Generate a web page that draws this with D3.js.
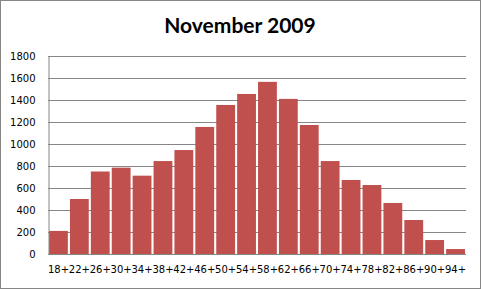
<!DOCTYPE html>
<html>
<head>
<meta charset="utf-8">
<script src="https://cdn.jsdelivr.net/npm/d3@7"></script>
<style>
  html, body { margin: 0; padding: 0; background: #fff; }
  svg { display: block; }
</style>
</head>
<body>
<div id="chart"></div>
<script>
/* data */
const ages   = ["18+","22+","26+","30+","34+","38+","42+","46+","50+","54+",
                "58+","62+","66+","70+","74+","78+","82+","86+","90+","94+"];
const counts = [210, 500, 750, 785, 712, 845, 945, 1155, 1355, 1455,
                1565, 1410, 1173, 845, 673, 627, 464, 309, 127, 45];
const yTicks = [0, 200, 400, 600, 800, 1000, 1200, 1400, 1600, 1800];

const W = 481, H = 289;
const m = { top: 56, right: 15, bottom: 35, left: 48 };
const tickFont = "'DejaVu Sans', Verdana, sans-serif";

const svg = d3.select("#chart").append("svg")
  .attr("width", W).attr("height", H);

// outer frame
svg.append("rect")
  .attr("x", 0.5).attr("y", 0.5)
  .attr("width", W - 1).attr("height", H - 1)
  .attr("fill", "#fff").attr("stroke", "#868686");

const x = d3.scaleBand().domain(ages)
  .range([m.left, W - m.right]).paddingInner(0.1).paddingOuter(0.05);
const y = d3.scaleLinear().domain([0, 1800]).range([H - m.bottom, m.top]);

// gridlines
svg.append("g")
  .selectAll("line").data(yTicks).join("line")
  .attr("x1", m.left).attr("x2", W - m.right)
  .attr("y1", d => Math.round(y(d)) + 0.5).attr("y2", d => Math.round(y(d)) + 0.5)
  .attr("stroke", "#868686");

// bars
svg.append("g")
  .selectAll("rect").data(counts).join("rect")
  .attr("x", (d, i) => x(ages[i]))
  .attr("width", x.bandwidth())
  .attr("y", d => y(d))
  .attr("height", d => y(0) - y(d))
  .attr("fill", "#c0504d");

// y axis
const yAxis = svg.append("g")
  .attr("transform", `translate(${m.left + 0.5},0)`)
  .call(d3.axisLeft(y).tickValues(yTicks).tickFormat(d3.format("d")).tickSize(0).tickPadding(13))
  .attr("font-family", tickFont).attr("font-size", 10);
yAxis.select(".domain").attr("stroke", "#868686");

// x axis
const xAxis = svg.append("g")
  .attr("transform", `translate(0,${y(0)})`)
  .call(d3.axisBottom(x).tickSize(0).tickPadding(12))
  .attr("font-family", tickFont).attr("font-size", 10);
xAxis.select(".domain").remove();

// title
svg.append("text")
  .attr("x", 240).attr("y", 33)
  .attr("text-anchor", "middle")
  .attr("font-family", "Lato, 'Open Sans', sans-serif")
  .attr("font-weight", "bold")
  .attr("font-size", 21)
  .text("November 2009");
</script>
</body>
</html>
